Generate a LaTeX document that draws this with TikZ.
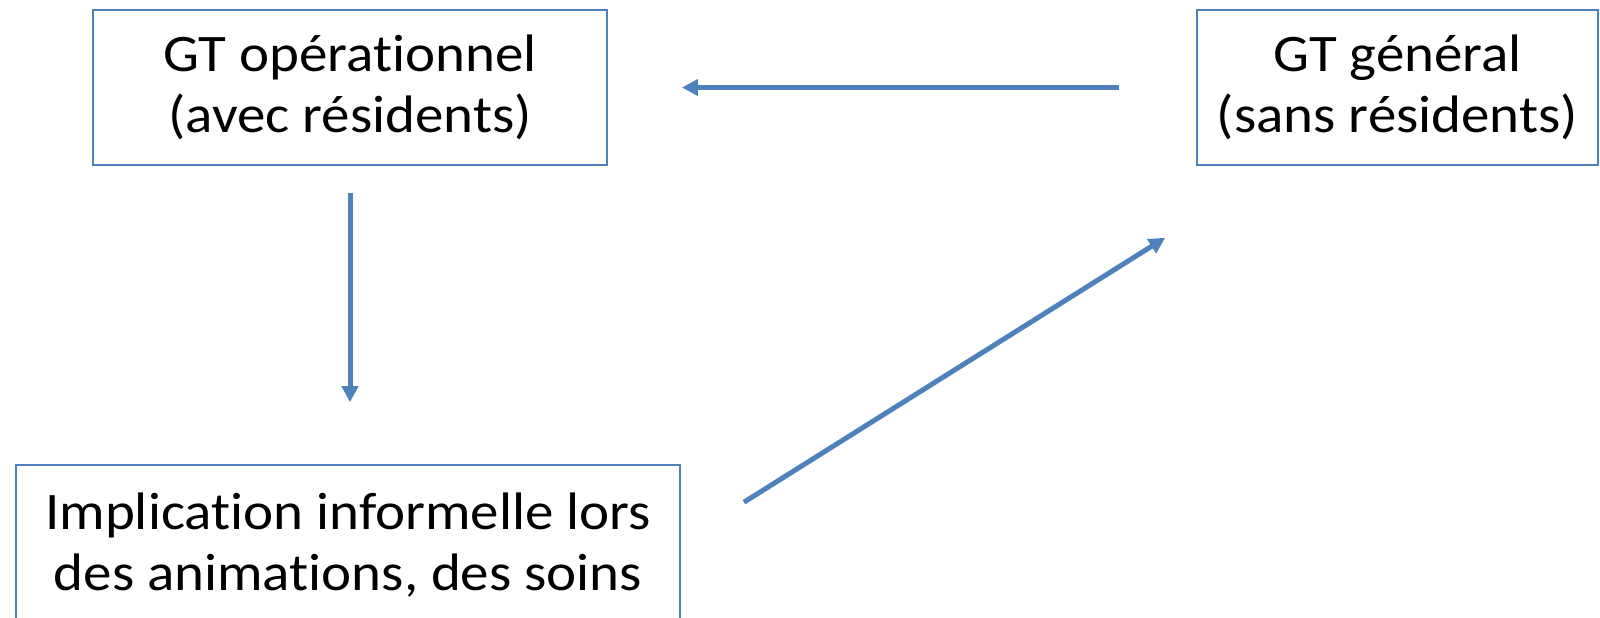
\documentclass[tikz,border=0pt]{standalone}
\usepackage {fontspec}
\usepackage {xcolor}
\setmainfont{Carlito}[FakeStretch=1.08, Ligatures=NoCommon]
\usetikzlibrary{arrows.meta}
\definecolor{boxblue}{HTML}{4F81BD}
\newcommand{\gtfont}{\fontsize{15}{17.5}\selectfont}

\begin{document}
\begin{tikzpicture}[x=0.01cm,y=0.01cm]
\tikzstyle{every node}+=[inner sep=0pt]
\tikzstyle{box}=[draw=boxblue, line width=0.15mm, align=center, font=\gtfont]
\tikzstyle{flow}=[draw=boxblue, line width=0.5mm, -{Triangle[length=1.6mm,width=1.6mm]}]
\useasboundingbox (0,0) rectangle (1600,617);
\clip (0,0) rectangle (1600,617);
\node [box, minimum width=5.14cm, minimum height=1.55cm] (op) at (350,529.5) {GT opérationnel\\(avec résidents)};
\node [box, minimum width=4.01cm, minimum height=1.55cm] (gen) at (1397.5,529.5) {GT général\\(sans résidents)};
\node [box, minimum width=6.64cm, minimum height=1.6cm] (impl) at (348,72) {Implication informelle lors\\des animations, des soins};
\draw [flow, shorten <=0.77cm, shorten >=0.74cm] (gen.west) -- (op.east);
\draw [flow, shorten <=0.27cm, shorten >=0.62cm] (op.south) -- (op.south |- impl.north);
\draw [flow] ([shift={(63,-38)}]impl.north east) -- ([shift={(-31,-72)}]gen.south west);
\end{tikzpicture}
\end{document}
